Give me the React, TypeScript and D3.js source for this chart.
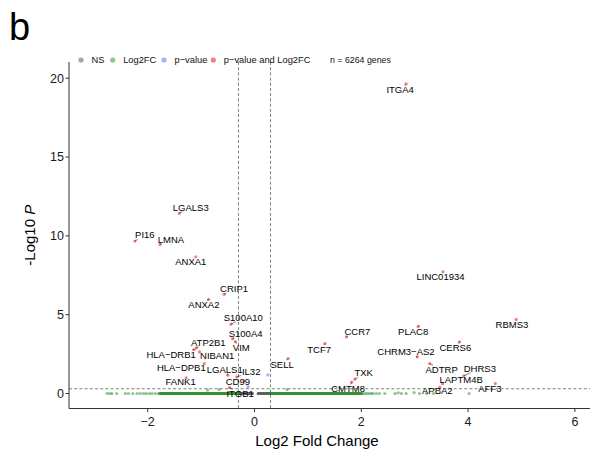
import React from "react";
import * as d3 from "d3";

// ---- data ----
const geneNames = ["ITGA4","LGALS3","PI16","LMNA","ANXA1","CRIP1","ANXA2","S100A10","S100A4","VIM","ATP2B1","HLA−DRB1","NIBAN1","HLA−DPB1","LGALS1","IL32","CD99","FANK1","ITGB1","SELL","TCF7","CCR7","PLAC8","CHRM3−AS2","TXK","CMTM8","ADTRP","DHRS3","LAPTM4B","APBA2","AFF3","CERS6","RBMS3","LINC01934"];
const geneLog2FC = [2.84,-1.41,-2.24,-1.77,-1.10,-0.57,-0.86,-0.44,-0.41,-0.36,-1.09,-1.13,-1.03,-0.94,-0.50,-0.33,-0.20,-1.28,-0.47,0.63,1.32,1.72,3.07,3.05,1.88,1.82,3.28,3.92,3.52,3.47,4.51,3.84,4.90,3.53];
const geneNegLog10P = [19.64,11.43,9.67,9.46,8.67,6.29,5.97,4.40,3.48,3.29,2.90,2.79,2.64,1.90,1.16,1.05,0.81,0.99,0.38,2.22,3.17,3.59,4.27,2.32,0.91,0.72,1.90,1.12,0.62,0.40,0.63,3.28,4.70,7.72];
// label placement (pixel offset of label centre from its point, as placed by the repel layout)
const labelDx = [-6,11.5,10,11,-5,10,-4.7,12.3,13,6,12,-23,17.7,-23,-3,14.3,-6,-5.5,10.7,-6,-5.8,11,-5.3,-11.4,8.8,-3.6,12,16,18.7,-2.5,-5.5,-4.2,-4.2,-2.5];
const labelDy = [6,-6,-6,-5,5,-5.6,5.7,-6.7,-5,6,-5.4,4.7,4,4.4,-5.7,-5,0.5,4,6,6,5.7,-5,5.7,-5,-6.3,6.6,6,-7.4,-4.2,3,5,6,5,5];

// Log2FC-only genes (green), individually visible ones
const fcOnlyX = [-2.76,-2.71,-2.67,-2.58,-2.42,-2.36,-2.28,-2.20,-2.14,-2.08,-2.03,-1.97,-1.92,-1.86,-1.80,-0.88,-0.66,0.61,2.03,2.07,2.11,2.15,2.19,2.22,2.28,2.34,2.44,2.63,2.69,2.75,2.84,2.99,3.09,3.22,3.35,4.02];
const fcOnlyY = [0,0,0,0,0,0,0,0,0,0,0,0,0,0,0,0.21,0.25,0.25,0,0,0,0,0,0,0,0,0,0,0.04,0,0,0.06,0,0,0,0];
// dense runs of overlapping Log2FC-only genes at -log10 P ≈ 0
const fcDenseStart = [-1.77, 0.30];
const fcDenseEnd = [-0.31, 2.0];
// dense runs of NS genes
const nsDenseStart = [-0.30, 0.07];
const nsDenseEnd = [-0.04, 0.30];
// p-value-only genes (blue)
const pOnlyX = [0.25, -0.12];
const pOnlyY = [1.18, 0.42];

const xTicks = [-2, 0, 2, 4, 6];
const yTicks = [0, 5, 10, 15, 20];
const fcCutoff = 0.3;
const pCutoff = 0.301;
const legendLabels = ["NS", "Log2FC", "p−value", "p−value and Log2FC"];
const totalGenes = 6264;

const COLS = ["#4d4d4d", "#228B22", "#4169E1", "#EE0000"];
const LEGEND_COLS = ["#a6a6a6", "#90c590", "#a0b4f0", "#f68080"];
const FONT = "'Liberation Sans', Arial, Helvetica, sans-serif";

export default function App() {
  const W = 597, H = 457;
  const left = 69, right = 590, top = 62, bottom = 408.5;
  const x = d3.scaleLinear().domain([-3.474, 6.283]).range([left, right]);
  const y = d3.scaleLinear().domain([-0.952, 21.03]).range([bottom, top]);
  const r = 1.6;
  const labelFont = 9.5;

  const ctx = (typeof document !== "undefined") ? document.createElement("canvas").getContext("2d") : null;
  const measure = (t: string, size: number) => {
    if (!ctx) return t.length * size * 0.6;
    ctx.font = `${size}px 'Liberation Sans', Arial`;
    return ctx.measureText(t).width;
  };

  const labels = geneNames.map((g, i) => {
    const px = x(geneLog2FC[i]);
    const py = y(geneNegLog10P[i]);
    const cx = px + labelDx[i];
    const cy = py + labelDy[i];
    const w = measure(g, labelFont) + 2;
    const h = labelFont * 0.9;
    const dx = px - cx, dy = py - cy;
    let seg: null | [number, number, number, number] = null;
    const inside = Math.abs(dx) <= w / 2 && Math.abs(dy) <= h / 2;
    if (!inside) {
      const tx = dx !== 0 ? (w / 2) / Math.abs(dx) : Infinity;
      const ty = dy !== 0 ? (h / 2) / Math.abs(dy) : Infinity;
      const t = Math.min(tx, ty);
      const ex = cx + dx * t, ey = cy + dy * t;
      const len = Math.hypot(px - ex, py - ey);
      if (len > 1.5) seg = [px, py, ex, ey];
    }
    return { g, px, py, cx, cy, seg };
  });

  const legendX = [81, 112.7, 164, 213.3];
  const legendY = 60;

  return (
    <svg width={W} height={H} style={{ display: "block", position: "absolute", left: 0, top: 0 }} fontFamily={FONT}>
      <rect width={W} height={H} fill="#fff" />
      <text x={9} y={40} fontSize={38} fill="#000">b</text>

      {/* legend */}
      {legendLabels.map((l, i) => (
        <g key={l}>
          <circle cx={legendX[i]} cy={legendY} r={2.6} fill={LEGEND_COLS[i]} />
          <text x={legendX[i] + 10.5} y={legendY + 3.3} fontSize={9.3} fill="#111">{l}</text>
        </g>
      ))}
      <text x={330} y={legendY + 3.2} fontSize={8.8} fill="#111">{`n = ${totalGenes} genes`}</text>

      {/* cutoff lines */}
      {[-fcCutoff, fcCutoff].map((c) => (
        <line key={c} x1={x(c)} x2={x(c)} y1={top} y2={bottom} stroke="#000" strokeWidth={0.5} strokeDasharray="3,2.2" />
      ))}
      <line x1={left} x2={right} y1={y(pCutoff)} y2={y(pCutoff)} stroke="#000" strokeWidth={0.5} strokeDasharray="3,2.2" />

      {/* dense runs */}
      {nsDenseStart.map((s, i) => (
        <line key={"ns" + i} x1={x(s)} x2={x(nsDenseEnd[i])} y1={y(0)} y2={y(0)} stroke={COLS[0]} strokeOpacity={0.9} strokeWidth={3.2} strokeLinecap="round" />
      ))}
      {fcDenseStart.map((s, i) => (
        <line key={"fc" + i} x1={x(s)} x2={x(fcDenseEnd[i])} y1={y(0)} y2={y(0)} stroke={COLS[1]} strokeOpacity={0.92} strokeWidth={3.2} strokeLinecap="round" />
      ))}
      {fcOnlyX.map((v, i) => (
        <circle key={"g" + i} cx={x(v)} cy={y(fcOnlyY[i])} r={r} fill={COLS[1]} fillOpacity={0.5} />
      ))}
      {pOnlyX.map((v, i) => (
        <circle key={"b" + i} cx={x(v)} cy={y(pOnlyY[i])} r={r} fill={COLS[2]} fillOpacity={0.5} />
      ))}
      {labels.map((l) => (
        <circle key={"r" + l.g} cx={l.px} cy={l.py} r={r} fill={COLS[3]} fillOpacity={0.5} />
      ))}

      {/* segments + labels */}
      {labels.map((l) => l.seg && (
        <line key={"s" + l.g} x1={l.seg[0]} y1={l.seg[1]} x2={l.seg[2]} y2={l.seg[3]} stroke="#000" strokeWidth={0.5} />
      ))}
      {labels.map((l) => (
        <text key={"t" + l.g} x={l.cx} y={l.cy + 3.4} fontSize={labelFont} textAnchor="middle" fill="#000">{l.g}</text>
      ))}

      {/* axes */}
      <line x1={left} x2={left} y1={top} y2={bottom} stroke="#333" strokeWidth={1} />
      <line x1={left} x2={right} y1={bottom} y2={bottom} stroke="#333" strokeWidth={1} />
      {yTicks.map((t) => (
        <g key={"yt" + t}>
          <line x1={left - 3.5} x2={left} y1={y(t)} y2={y(t)} stroke="#333" strokeWidth={1} />
          <text x={left - 5} y={y(t) + 4.4} fontSize={12.5} textAnchor="end" fill="#1a1a1a">{t}</text>
        </g>
      ))}
      {xTicks.map((t) => (
        <g key={"xt" + t}>
          <line x1={x(t)} x2={x(t)} y1={bottom} y2={bottom + 3.5} stroke="#333" strokeWidth={1} />
          <text x={x(t)} y={bottom + 17} fontSize={12.5} textAnchor="middle" fill="#1a1a1a">{t < 0 ? "−" + Math.abs(t) : String(t)}</text>
        </g>
      ))}
      <text x={317} y={446} fontSize={15} textAnchor="middle" fill="#000">Log2 Fold Change</text>
      <text transform={`translate(35,${(top + bottom) / 2}) rotate(-90)`} fontSize={15} textAnchor="middle" fill="#000">
        -Log10 <tspan fontStyle="italic">P</tspan>
      </text>
    </svg>
  );
}
